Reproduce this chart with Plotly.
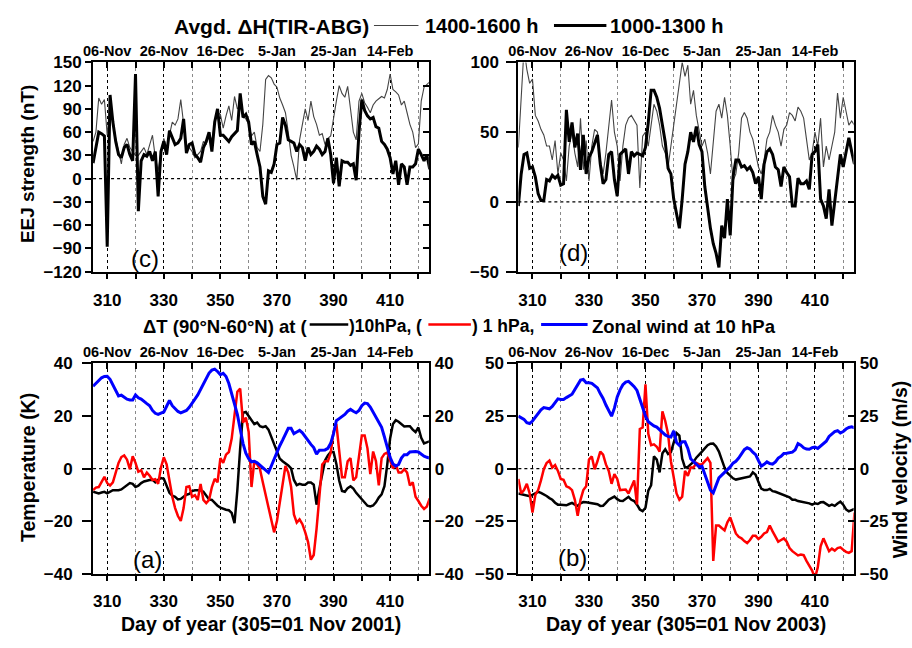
import plotly.graph_objects as go

W, H = 912, 648

# ---------------- data ----------------
days = list(range(305, 425))
doy_ticks = [310, 330, 350, 370, 390, 410]
date_ticks = [310, 330, 350, 370, 390, 410]
date_labels = ["06-Nov", "26-Nov", "16-Dec", "5-Jan", "25-Jan", "14-Feb"]

# (c) EEJ strength 2001-02, nT
eej_2001_1000 = [20, 40, 60, 58, 55, -88, 108, 73, 48, 31,
                 27, 40, 44, 31, 23, 135, -42, 23, 31, 29,
                 35, 23, 35, -23, 35, 48, 31, 62, 52, 44,
                 46, 52, 77, 33, 44, 46, 31, 27, 21, 40,
                 48, 60, 35, 73, 90, 56, 56, 52, 48, 54,
                 58, 62, 110, 79, 83, 73, 44, 48, 31, 15,
                 -23, -33, 10, 8, 19, 44, 46, 79, 69, 50,
                 48, 46, 35, 44, 40, 23, 40, 31, 35, 42,
                 38, 31, 35, 52, 31, -6, 27, -10, 23, 21,
                 21, 17, 19, -2, 60, 102, 88, 81, 77, 79,
                 67, 65, 48, 44, 38, 27, 6, 23, -8, 19,
                 15, -8, 15, 15, 19, 38, 31, 23, 31, 12]
eej_2001_1400 = [48, 60, 104, 96, 102, 56, 98, 73, 52, 35,
                 19, 44, 52, 40, 35, 30, 30, 35, 40, 31,
                 44, 56, 27, 10, 35, 52, 40, 56, 73, 69,
                 77, 102, 73, 40, 40, 35, 27, 31, 35, 48,
                 44, 60, 48, 73, 85, 83, 65, 81, 94, 75,
                 106, 90, 94, 81, 77, 70, 55, 60, 40, 35,
                 70, 128, 133, 130, 122, 118, 104, 95, 85, 60,
                 30, 15, -2, 50, 70, 90, 75, 100, 80, 70,
                 56, 58, 44, 52, 55, 80, 100, 120, 110, 105,
                 119, 90, 60, 50, 100, 110, 98, 92, 85, 95,
                 100, 103, 106, 104, 115, 135, 115, 112, 108, 95,
                 100, 85, 70, 60, 40, 45, 100, 118, 122, 125]

# (d) EEJ strength 2003-04, nT
eej_2003_1000 = [-3, 20, 34, 35, 24, 25, 18, 6, 1, 1,
                 16, 15, 19, 17, 19, 12, 13, 66, 43, 57,
                 39, 49, 23, 48, 20, 32, 36, 42, 48, 27,
                 13, 16, 34, 36, 16, 4, 34, 36, 38, 20,
                 36, 33, 35, 34, 33, 39, 57, 80, 80, 75,
                 67, 55, 43, 24, 20, 2, -10, -19, 2, 27,
                 36, 50, 43, 54, 41, 36, 11, -5, -19, -30,
                 -37, -47, -17, -26, 2, -24, 18, 30, 30, 25,
                 26, 23, 25, 21, 13, 18, 2, 27, 36, 38,
                 34, 25, 23, 11, 25, 21, 18, -3, -3, 17,
                 13, 13, 15, 9, 34, 36, 41, 2, -3, -12,
                 9, -17, 0, 20, 34, 25, 36, 46, 36, 27]
eej_2003_1400 = [39, 75, 110, 95, 85, 88, 62, 58, 52, 48,
                 40, 40, 30, 44, 20, 35, 30, 15, 40, 50,
                 35, 25, 60, 23, 44, 15, 40, 52, 50, 30,
                 20, 35, 55, 73, 50, 40, 15, 40, 55, 60,
                 62, 58, 55, 10, 47, 50, 40, 55, 70, 65,
                 55, 40, 35, 25, 40, 55, 70, 85, 100, 90,
                 98, 70, 80, 62, 50, 40, 45, 35, 20, 45,
                 65, 70, 60, 75, 62, 40, 15, 20, 35, 60,
                 64, 60, 50, 45, 35, 25, 20, 30, 45, 50,
                 62, 55, 50, 40, 52, 55, 64, 62, 58, 68,
                 65, 60, 45, 30, 35, 50, 40, 60, 25, 40,
                 30, 40, 50, 78, 60, 75, 65, 55, 58, 55]

# (a) 2001-02: dT(90N-60N) at 10 hPa and 1 hPa (K), zonal wind at 10 hPa (m/s)
dt10_2001 = [-8.8, -9.2, -9.4, -9.1, -8.8, -9.4, -8.7, -8.2, -8.2, -8.2,
             -7.9, -7.0, -6.1, -5.5, -5.8, -7.0, -6.5, -5.5, -4.9, -4.5,
             -4.3, -4.2, -5.2, -4.2, -3.6, -3.9, -6.4, -9.2, -10.3, -10.7,
             -11.7, -11.5, -10.7, -9.9, -9.6, -8.5, -8.2, -8.2, -8.2, -8.8,
             -10.4, -11.7, -11.9, -13.1, -14.1, -14.8, -15.3, -15.6, -15.8, -16.8,
             -20.7, -8.2, 7.7, 21.2, 21.5, 20.0, 18.8, 16.9, 17.5, 16.1,
             15.7, 16.1, 14.8, 12.0, 9.2, 6.7, 3.8, 2.8, 2.1, 1.2,
             0.1, -4.3, -6.3, -5.8, -6.1, -6.1, -5.3, -5.3, -6.1, -13.7,
             -7.6, -1.5, 3.1, 5.0, 6.3, 6.3, 1.8, -4.5, -8.5, -8.8,
             -7.4, -6.7, -7.6, -9.2, -10.4, -11.3, -12.9, -14.1, -14.4, -14.0,
             -12.8, -11.0, -9.8, -6.7, 1.6, 11.4, 16.9, 18.4, 17.8, 16.8,
             16.0, 16.1, 16.1, 14.8, 13.9, 15.6, 11.7, 9.6, 9.9, 10.4]
dt1_2001 = [-8.2, -7.2, -7.0, -5.2, -3.1, -5.5, -6.4, -5.2, -1.5, 2.2,
            4.4, 5.0, 3.4, -0.2, 4.7, 2.2, -1.2, -0.6, -3.3, -1.5,
            -2.7, -4.3, -4.0, -5.8, 0.4, 4.3, 1.6, -5.2, -10.7, -15.0,
            -18.0, -19.9, -15.0, -7.0, -6.7, -10.7, -10.1, -11.9, -5.8, -11.9,
            -13.1, -11.9, -7.0, -3.9, -5.2, 4.0, 2.2, 5.3, 6.3, 11.4,
            20.6, 29.2, 30.4, 17.5, 19.4, 13.9, -7.0, 2.8, 1.6, -0.2,
            -5.2, -10.1, -15.6, -20.5, -24.2, -19.9, -13.1, -6.4, 1.0, -1.5,
            -7.0, -17.4, -20.5, -19.3, -21.1, -24.2, -27.9, -34.6, -32.8, -22.9,
            -9.4, 1.6, 2.8, 2.8, 5.9, 14.0, 17.0, 6.5, -3.3, -3.3,
            2.8, 4.0, -4.5, -3.3, 5.3, 12.6, 12.6, 7.7, -2.1, 6.5,
            2.8, -6.4, 4.0, 5.6, 6.1, 2.8, 0.1, 1.6, -1.5, -1.5,
            -0.2, -1.5, -6.4, -5.2, -10.7, -12.3, -14.1, -15.3, -14.4, -11.3]
wind_2001 = [31.3, 32.5, 33.5, 34.5, 35.0, 35.1, 33.9, 31.7, 29.8, 27.6,
             27.9, 27.1, 26.4, 26.1, 26.1, 28.0, 26.9, 26.4, 25.4, 24.7,
             23.9, 22.1, 21.0, 20.6, 21.1, 21.5, 23.7, 25.9, 23.9, 22.7,
             21.7, 21.2, 21.6, 22.1, 23.3, 24.7, 26.4, 28.0, 30.1, 32.5,
             34.7, 36.3, 37.4, 37.8, 36.9, 35.7, 36.2, 35.0, 32.3, 28.6,
             24.9, 20.6, 15.1, 9.6, 5.9, 3.8, 2.6, 2.8, 2.2, 1.3,
             0.4, -0.6, -1.5, 1.0, 3.8, 6.5, 8.7, 10.8, 13.3, 15.3,
             15.3, 13.3, 13.9, 14.5, 13.6, 12.0, 10.4, 9.2, 8.0, 5.5,
             7.0, 7.1, 7.1, 7.7, 9.6, 13.3, 18.2, 19.0, 19.8, 20.6,
             21.8, 22.5, 21.8, 21.2, 22.1, 23.9, 24.9, 24.7, 23.4, 21.5,
             19.4, 17.8, 15.7, 12.0, 7.7, 4.3, 1.8, 0.9, 1.6, 4.0,
             5.3, 5.3, 6.3, 6.5, 6.5, 6.3, 5.5, 4.7, 4.3, 4.0]

# (b) 2003-04
dt10_2003 = [-11.8, -12.1, -12.4, -12.8, -13.1, -12.4, -11.5, -11.0, -11.5, -12.1,
             -13.0, -14.0, -14.8, -16.2, -17.1, -17.1, -17.4, -17.4, -16.8, -16.3,
             -17.1, -17.7, -16.5, -15.9, -16.0, -16.3, -16.3, -16.9, -16.9, -17.7,
             -17.6, -16.3, -14.8, -14.0, -13.3, -14.5, -15.3, -15.4, -14.4, -13.4,
             -14.8, -15.4, -17.1, -19.4, -20.2, -18.6, -10.5, -7.9, 5.8, 4.3,
             -1.8, 7.3, 9.2, 6.9, 7.8, 13.0, 16.9, 15.7, 4.7, 0.5,
             0.8, 2.0, 3.2, 5.2, 6.9, 8.1, 9.6, 11.1, 11.8, 11.9,
             10.5, 8.1, 4.3, 0.5, -2.1, -3.4, -4.6, -5.2, -4.9, -4.9,
             -4.4, -4.1, -3.7, -1.8, -2.9, -6.4, -9.5, -10.2, -10.2, -9.6,
             -10.7, -11.0, -11.5, -12.2, -12.8, -13.3, -13.6, -14.8, -14.8, -15.4,
             -15.6, -16.0, -16.3, -16.5, -17.1, -16.5, -16.8, -16.0, -15.9, -16.8,
             -17.7, -17.1, -17.7, -16.6, -15.7, -17.1, -19.4, -20.3, -19.5, -19.1]
dt1_2003 = [-4.9, -11.8, -10.2, -7.2, -11.8, -20.9, -12.5, -10.2, -5.6, -0.3,
            2.7, 3.8, 0.5, 1.7, -1.1, -4.9, -5.3, -8.4, -9.0, -10.2,
            -14.8, -22.4, -14.8, -10.2, -8.4, 4.3, 5.8, -0.3, 3.5, 8.1,
            6.6, 2.0, -1.1, -7.2, -2.6, -4.9, -10.2, -10.2, -9.9, -11.8,
            -8.7, -5.6, -17.0, 18.8, 19.5, 40.0, 16.5, 11.1, 11.5, 10.4,
            8.1, 27.2, 22.6, 16.5, 3.5, -3.4, -11.8, -14.8, -13.3, -1.1,
            -3.4, 0.5, 0.5, 2.7, 2.0, 2.0, 3.5, 5.0, 2.7, -43.8,
            -27.0, -27.0, -28.2, -29.3, -25.5, -23.2, -27.0, -30.8, -32.4, -33.1,
            -34.4, -35.4, -33.9, -31.9, -31.9, -33.4, -32.4, -30.8, -30.1, -27.0,
            -29.8, -32.4, -34.7, -33.9, -33.1, -34.7, -37.7, -39.2, -40.0, -41.2,
            -40.8, -41.1, -43.8, -46.1, -48.4, -52.0, -46.9, -36.9, -33.1, -36.2,
            -39.2, -38.0, -38.9, -37.7, -37.4, -38.5, -39.5, -40.0, -39.2, -20.9]
wind_2003 = [24.9, 24.1, 23.4, 21.8, 21.4, 22.6, 24.4, 26.1, 27.9, 29.0,
             28.7, 28.4, 29.5, 31.6, 33.1, 32.8, 32.8, 33.7, 34.7, 35.3,
             37.6, 39.7, 42.0, 42.3, 40.8, 40.8, 40.5, 39.4, 38.3, 35.6,
             33.3, 30.2, 27.2, 24.9, 28.7, 34.0, 37.4, 39.8, 41.1, 41.4,
             40.2, 38.9, 37.1, 33.3, 28.7, 24.9, 22.3, 21.1, 20.3, 19.7,
             18.5, 16.9, 16.0, 15.3, 15.0, 17.9, 12.4, 11.1, 12.7, 12.7,
             9.6, 4.7, 3.5, 2.3, 0.8, 1.1, -2.6, -6.4, -10.2, -11.5,
             -7.9, -4.4, -3.1, -1.8, -0.3, 0.8, 2.6, 3.5, 5.0, 7.2,
             9.0, 9.9, 9.3, 7.8, 6.6, 3.8, 1.2, 2.0, 3.2, 2.4,
             2.1, 3.2, 5.0, 5.8, 7.2, 7.3, 7.5, 7.8, 8.9, 11.9,
             11.1, 9.9, 9.3, 9.2, 9.9, 10.2, 9.6, 10.8, 11.9, 13.0,
             15.3, 16.3, 17.6, 18.0, 16.9, 17.6, 18.8, 19.5, 19.8, 19.4]

# ---------------- layout helpers ----------------
FONT = "Liberation Sans, Arial, sans-serif"
XR = [305, 423.7]


def fx(p):
    return p / W


def fy(p):
    return 1 - p / H


def bold(size):
    return dict(family=FONT, size=size, color="black", weight="bold")


panels = [
    dict(xa="x", ya="y", xt="x5", yr="y5", xd=(84, 423.5), yd=(55, 270.5),
         yrange=[-120, 150], yt=list(range(-120, 151, 30)), rlab=False,
         ltl=6, lso=0, bso=7),
    dict(xa="x2", ya="y2", xt="x6", yr="y6", xd=(514, 853), yd=(55, 270.5),
         yrange=[-50, 100], yt=[-50, 0, 50, 100], rlab=False,
         ltl=10, lso=4, bso=7),
    dict(xa="x3", ya="y3", xt="x7", yr="y7", xd=(84, 423.5), yd=(365, 582),
         yrange=[-40, 40], yt=[-40, -20, 0, 20, 40], rlab=True,
         ltl=9, lso=6, bso=6),
    dict(xa="x4", ya="y4", xt="x8", yr="y8", xd=(514, 853), yd=(365, 582),
         yrange=[-50, 50], yt=[-50, -25, 0, 25, 50], rlab=True,
         ltl=9, lso=0, bso=6),
]


def lname(a):
    return ("xaxis" if a[0] == "x" else "yaxis") + a[1:]


fig = go.Figure()
layout = {}
shapes = []

for p in panels:
    xdom = [fx(p["xd"][0]), fx(p["xd"][1])]
    ydom = [fy(p["yd"][1]), fy(p["yd"][0])]
    layout[lname(p["xa"])] = dict(
        domain=xdom, anchor=p["ya"], range=XR,
        tickmode="array", tickvals=doy_ticks, ticktext=[str(v) for v in doy_ticks],
        ticks="outside", ticklen=5, tickwidth=2, tickcolor="black",
        tickfont=bold(17), ticklabelstandoff=p["bso"],
        showline=True, linewidth=2, linecolor="black", mirror=True,
        showgrid=True, gridcolor="black", griddash="dot", gridwidth=1.3,
        zeroline=False,
        minor=dict(tickmode="linear", tick0=310, dtick=10, ticks="outside",
                   ticklen=5, tickwidth=2, tickcolor="black", showgrid=True,
                   gridcolor="#8a8a8a", griddash="dot", gridwidth=1),
    )
    layout[lname(p["ya"])] = dict(
        domain=ydom, anchor=p["xa"], range=p["yrange"],
        tickmode="array", tickvals=p["yt"],
        ticks="outside", ticklen=p["ltl"], tickwidth=2, tickcolor="black",
        tickfont=bold(17), ticklabelstandoff=p["lso"],
        showline=True, linewidth=2, linecolor="black", mirror=True,
        showgrid=False, zeroline=False,
    )
    layout[lname(p["xt"])] = dict(
        overlaying=p["xa"], anchor=p["ya"], side="top", range=XR,
        tickmode="array", tickvals=date_ticks, ticktext=date_labels,
        ticks="inside", ticklen=6, tickwidth=2, tickcolor="black",
        tickfont=bold(14.5), ticklabelstandoff=2,
        showline=False, showgrid=False, zeroline=False,
        minor=dict(tickmode="linear", tick0=310, dtick=10, ticks="inside",
                   ticklen=6, tickwidth=2, tickcolor="black", showgrid=False),
    )
    layout[lname(p["yr"])] = dict(
        overlaying=p["ya"], anchor=p["xa"], side="right", range=p["yrange"],
        tickmode="array", tickvals=p["yt"],
        ticks="inside", ticklen=6, tickwidth=2, tickcolor="black",
        showticklabels=p["rlab"], tickfont=bold(17), ticklabelstandoff=5,
        showline=False, showgrid=False, zeroline=False,
    )
    # dotted zero reference line
    shapes.append(dict(type="line", xref=p["xa"] + " domain", x0=0, x1=1,
                       yref=p["ya"], y0=0, y1=0, layer="below",
                       line=dict(color="black", width=1.3, dash="dot")))
    # placeholder traces so the overlay axes get drawn
    fig.add_trace(go.Scatter(x=[None], y=[None], xaxis=p["xt"], yaxis=p["ya"],
                             showlegend=False, hoverinfo="skip"))
    if not p["rlab"]:
        fig.add_trace(go.Scatter(x=[None], y=[None], xaxis=p["xa"], yaxis=p["yr"],
                                 showlegend=False, hoverinfo="skip"))

# ---------------- traces ----------------
thin = dict(color="#444444", width=1.1)
thick = dict(color="black", width=3)
fig.add_trace(go.Scatter(x=days, y=eej_2001_1400, mode="lines", line=thin,
                         xaxis="x", yaxis="y", name="1400-1600 h"))
fig.add_trace(go.Scatter(x=days, y=eej_2001_1000, mode="lines", line=thick,
                         xaxis="x", yaxis="y", name="1000-1300 h"))
fig.add_trace(go.Scatter(x=days, y=eej_2003_1400, mode="lines", line=thin,
                         xaxis="x2", yaxis="y2", name="1400-1600 h"))
fig.add_trace(go.Scatter(x=days, y=eej_2003_1000, mode="lines", line=thick,
                         xaxis="x2", yaxis="y2", name="1000-1300 h"))

fig.add_trace(go.Scatter(x=days, y=dt10_2001, mode="lines",
                         line=dict(color="black", width=2.5),
                         xaxis="x3", yaxis="y3", name="10 hPa"))
fig.add_trace(go.Scatter(x=days, y=dt1_2001, mode="lines",
                         line=dict(color="#ff0000", width=2.5),
                         xaxis="x3", yaxis="y3", name="1 hPa"))
fig.add_trace(go.Scatter(x=days, y=wind_2001, mode="lines",
                         line=dict(color="#0000ff", width=3),
                         xaxis="x3", yaxis="y7", name="Zonal wind"))
fig.add_trace(go.Scatter(x=days, y=dt10_2003, mode="lines",
                         line=dict(color="black", width=2.5),
                         xaxis="x4", yaxis="y4", name="10 hPa"))
fig.add_trace(go.Scatter(x=days, y=dt1_2003, mode="lines",
                         line=dict(color="#ff0000", width=2.5),
                         xaxis="x4", yaxis="y4", name="1 hPa"))
fig.add_trace(go.Scatter(x=days, y=wind_2003, mode="lines",
                         line=dict(color="#0000ff", width=3),
                         xaxis="x4", yaxis="y8", name="Zonal wind"))

# ---------------- text ----------------
ann = []


def text(t, x, y, size, xanchor="center", yanchor="middle", angle=0, weight="bold"):
    ann.append(dict(text=t, x=fx(x), y=fy(y), xref="paper", yref="paper",
                    showarrow=False, xanchor=xanchor, yanchor=yanchor,
                    textangle=angle, borderpad=0,
                    font=dict(family=FONT, size=size, color="black", weight=weight)))


def seg(x0, x1, y, color, width):
    shapes.append(dict(type="line", xref="paper", yref="paper",
                       x0=fx(x0), x1=fx(x1), y0=fy(y), y1=fy(y),
                       line=dict(color=color, width=width)))


# top legend
text("Avgd. \u0394H(TIR-ABG)", 364, 18, 21, xanchor="right")
seg(368, 413, 17, "#444444", 1)
text("1400-1600 h", 419, 18, 20, xanchor="left")
seg(550, 603, 17, "black", 3)
text("1000-1300 h", 606, 18, 20, xanchor="left")

# middle legend
text("\u0394T (90\u00b0N-60\u00b0N) at (", 302, 327, 18.5, xanchor="right")
seg(303, 342, 325, "black", 2.5)
text(")10hPa, (", 342, 327, 17.5, xanchor="left")
seg(423, 466, 325, "#ff0000", 2.5)
text(") 1 hPa,", 466, 327, 17.5, xanchor="left")
seg(537, 584, 325, "#0000ff", 3)
text("Zonal wind at 10 hPa", 587, 327, 18.5, xanchor="left")

# axis titles
text("EEJ strength (nT)", 18, 160, 19, angle=-90)
text("Temperature (K)", 18, 472, 19.5, angle=-90)
text("Wind velocity (m/s)", 900, 474, 19.5, angle=-90)
text("Day of year (305=01 Nov 2001)", 254, 634, 19.5)
text("Day of year (305=01 Nov 2003)", 683, 634, 19.5)

# panel labels
text("(c)", 136, 257, 24, weight="normal")
text("(d)", 570, 251, 24, weight="normal")
text("(a)", 139, 567, 24, weight="normal")
text("(b)", 569, 565, 24, weight="normal")

fig.update_layout(
    width=W, height=H, autosize=False,
    margin=dict(l=0, r=0, t=0, b=0),
    paper_bgcolor="white", plot_bgcolor="white",
    showlegend=False,
    annotations=ann, shapes=shapes,
    font=dict(family=FONT, color="black"),
    **layout,
)

fig.write_html("out.html",
               config={"displayModeBar": False},
               post_script="document.body.style.margin='0';document.body.style.padding='0';")
